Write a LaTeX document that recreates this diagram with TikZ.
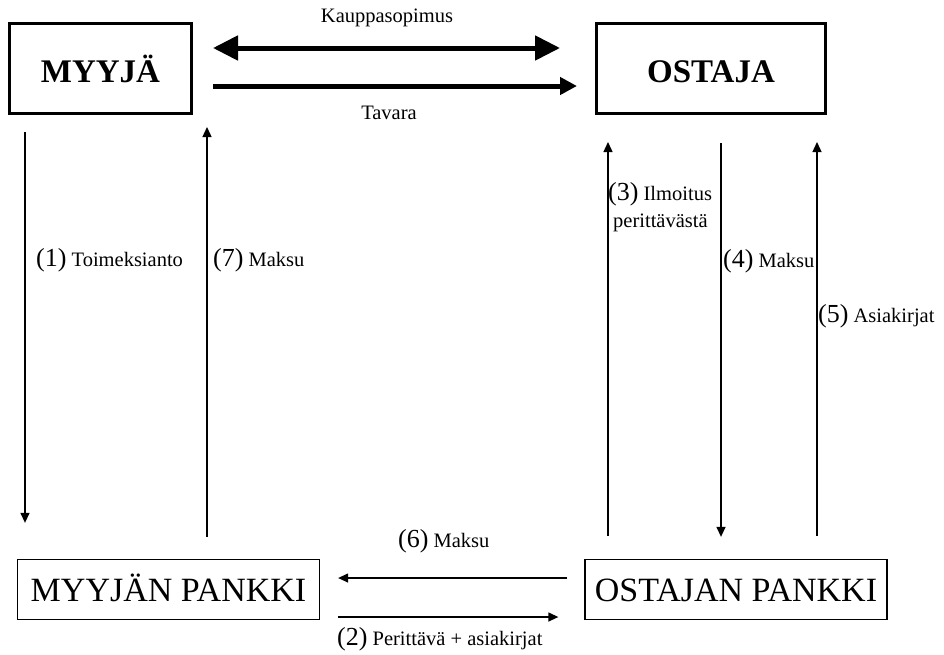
\documentclass[tikz,border=0pt]{standalone}
\usepackage{fontspec}
\setmainfont{Liberation Serif}
\usetikzlibrary{arrows.meta}

% step numbers are set larger than the words that follow them
\newcommand\flownum[1]{{\fontsize{26}{28}\selectfont(#1)}}

\tikzset{
  partybox/.style={draw, line width=3.4pt, minimum height=89.6pt, inner sep=0pt,
    text height=27pt, text depth=0pt,
    font=\fontsize{33}{35}\selectfont\bfseries},
  bankbox/.style={draw, line width=1.3pt, minimum width=302pt, minimum height=60pt,
    inner sep=0pt, text height=23pt, text depth=0pt,
    font=\fontsize{34}{36}\selectfont},
  flow/.style={line width=1.3pt, -{Triangle[length=10pt,width=9pt]}},
  bigflow/.style={line width=5pt},
  steplabel/.style={inner sep=0pt, anchor=base west, font=\fontsize{20.5}{22}\selectfont},
  toplabel/.style={inner sep=0pt, anchor=base, font=\fontsize{20.5}{22}\selectfont},
}

\begin{document}
\begin{tikzpicture}[x=1pt, y=-1pt]
\useasboundingbox (0,0) rectangle (944,654);

% parties and banks
\node[partybox, minimum width=181.6pt] (myyja)  at (100.5,68.5) {MYYJÄ};
\node[partybox, minimum width=228.6pt] (ostaja) at (711,68.5)   {OSTAJA};
\node[bankbox] (mpankki) at (168.5,589.5) {MYYJÄN PANKKI};
\node[bankbox] (opankki) at (736,589.5)   {OSTAJAN PANKKI};

% columns and rows of the connectors
\coordinate (c1) at (25,0);
\coordinate (c7) at (207,0);
\coordinate (c3) at (608,0);
\coordinate (c4) at (721,0);
\coordinate (c5) at (817,0);
\coordinate (rk) at (0,48);
\coordinate (rt) at (0,86);
\coordinate (r6) at (0,578);
\coordinate (r2) at (0,617);

% contract and goods between the parties
\draw[bigflow, {Triangle[length=25pt,width=24pt]}-{Triangle[length=25pt,width=24pt]},
      shorten <=20pt, shorten >=35pt] (myyja.east |- rk) -- (ostaja.west |- rk);
\draw[bigflow, -{Triangle[length=17pt,width=17pt]},
      shorten <=20pt, shorten >=18pt] (myyja.east |- rt) -- (ostaja.west |- rt);
\node[toplabel] (lk) at (387,22)  {Kauppasopimus};
\node[toplabel] (lt) at (389,119) {Tavara};

% seller side
\draw[flow, shorten <=17pt, shorten >=36pt] (c1 |- myyja.south) -- (c1 |- mpankki.north);
\draw[flow, shorten <=22pt, shorten >=12pt] (c7 |- mpankki.north) -- (c7 |- myyja.south);

% buyer side
\draw[flow, shorten <=23pt, shorten >=27pt] (c3 |- opankki.north) -- (c3 |- ostaja.south);
\draw[flow, shorten <=28pt, shorten >=22pt] (c4 |- ostaja.south) -- (c4 |- opankki.north);
\draw[flow, shorten <=23pt, shorten >=27pt] (c5 |- opankki.north) -- (c5 |- ostaja.south);

% between the banks
\draw[flow, shorten <=17pt, shorten >=18pt] (opankki.west |- r6) -- (mpankki.east |- r6);
\draw[flow, shorten <=18pt, shorten >=26pt] (mpankki.east |- r2) -- (opankki.west |- r2);

% step labels
\node[steplabel] (l1) at (36,266)  {\flownum{1} Toimeksianto};
\node[steplabel] (l7) at (213,266) {\flownum{7} Maksu};
\node[steplabel] (l3) at (608,200) {\flownum{3} Ilmoitus};
\node[steplabel] (l3b) at (613,227) {perittävästä};
\node[steplabel] (l4) at (723,267) {\flownum{4} Maksu};
\node[steplabel] (l5) at (818,322) {\flownum{5} Asiakirjat};
\node[steplabel] (l6) at (398,547) {\flownum{6} Maksu};
\node[steplabel] (l2) at (337,645) {\flownum{2} Perittävä + asiakirjat};
\end{tikzpicture}
\end{document}
